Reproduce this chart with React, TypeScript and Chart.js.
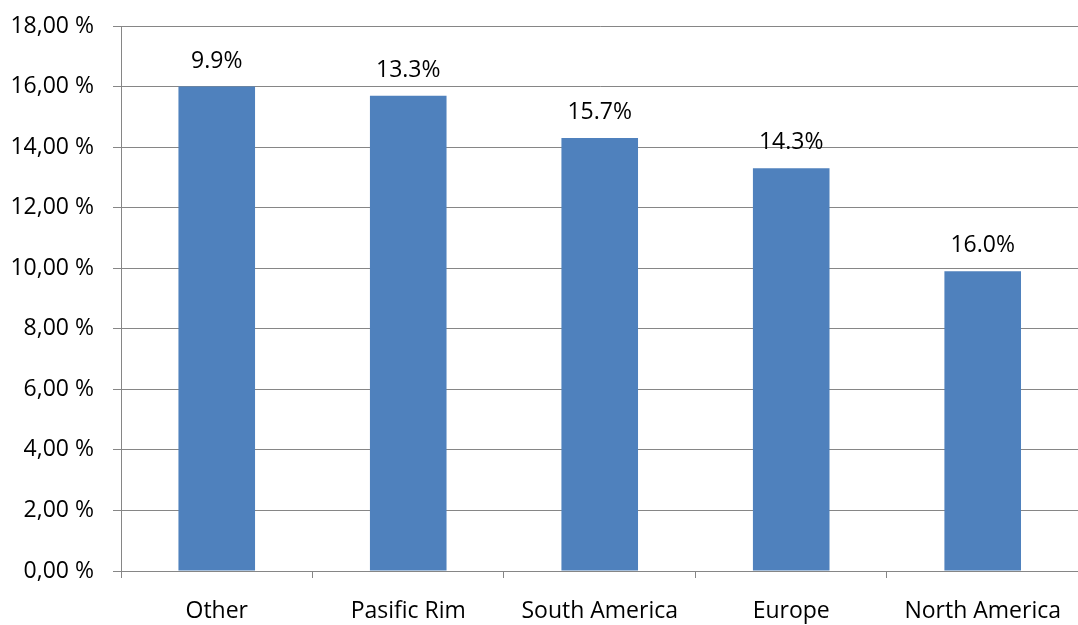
import React, { useEffect, useRef } from "react";
import { Chart, registerables } from "chart.js";

Chart.register(...registerables);

const categories = ["Other", "Pasific Rim", "South America", "Europe", "North America"];
const barValues = [16.0, 15.7, 14.3, 13.3, 9.9];
const labelValues = [9.9, 13.3, 15.7, 14.3, 16.0];
const yTicks = [0, 2, 4, 6, 8, 10, 12, 14, 16, 18];

const FONT = "'Open Sans', sans-serif";
const GRID = "#868686";

const valueLabels = {
  id: "valueLabels",
  afterDatasetsDraw(chart: any) {
    const ctx = chart.ctx;
    const meta = chart.getDatasetMeta(0);
    ctx.save();
    ctx.font = `23px ${FONT}`;
    ctx.fillStyle = "#000000";
    ctx.textAlign = "center";
    ctx.textBaseline = "alphabetic";
    meta.data.forEach((bar: any, i: number) => {
      ctx.fillText(labelValues[i].toFixed(1) + "%", bar.x, bar.y - 19);
    });
    ctx.restore();
  },
};

export default function App() {
  const canvasRef = useRef<HTMLCanvasElement>(null);

  useEffect(() => {
    const canvas = canvasRef.current!;
    const chart = new Chart(canvas, {
      type: "bar",
      data: {
        labels: categories,
        datasets: [
          {
            data: barValues,
            backgroundColor: "#4F81BD",
            categoryPercentage: 1,
            barPercentage: 0.4,
          },
        ],
      },
      options: {
        animation: false,
        responsive: false,
        maintainAspectRatio: false,
        layout: { padding: { top: 26, left: 0, right: 0, bottom: 0 } },
        plugins: {
          legend: { display: false },
          tooltip: { enabled: false },
        },
        scales: {
          x: {
            offset: true,
            grid: {
              offset: true,
              drawOnChartArea: false,
              drawTicks: true,
              tickLength: 7,
              color: GRID,
            },
            border: { display: true, color: GRID, width: 1 },
            ticks: {
              color: "#000000",
              font: { family: FONT, size: 23 },
              padding: 20,
              maxRotation: 0,
            },
            afterFit(scale: any) {
              scale.height = 54;
            },
          },
          y: {
            min: 0,
            max: 18,
            afterBuildTicks(scale: any) {
              scale.ticks = yTicks.map((v) => ({ value: v }));
            },
            grid: {
              color: GRID,
              tickLength: 8,
              lineWidth: 1,
            },
            border: { display: true, color: GRID, width: 1 },
            ticks: {
              color: "#000000",
              font: { family: FONT, size: 23 },
              padding: 19,
              callback: (v: any) => Number(v).toFixed(2).replace(".", ",") + " %",
            },
            afterFit(scale: any) {
              scale.width = 121;
              scale.paddingTop = 0;
              scale.paddingBottom = 0;
            },
          },
        },
      },
      plugins: [valueLabels],
    });
    return () => chart.destroy();
  }, []);

  return (
    <div
      style={{
        position: "fixed",
        left: 0,
        top: 0,
        width: 1078,
        height: 625,
        overflow: "hidden",
        background: "#ffffff",
      }}
    >
      <canvas ref={canvasRef} width={1081} height={625} style={{ display: "block" }} />
    </div>
  );
}
